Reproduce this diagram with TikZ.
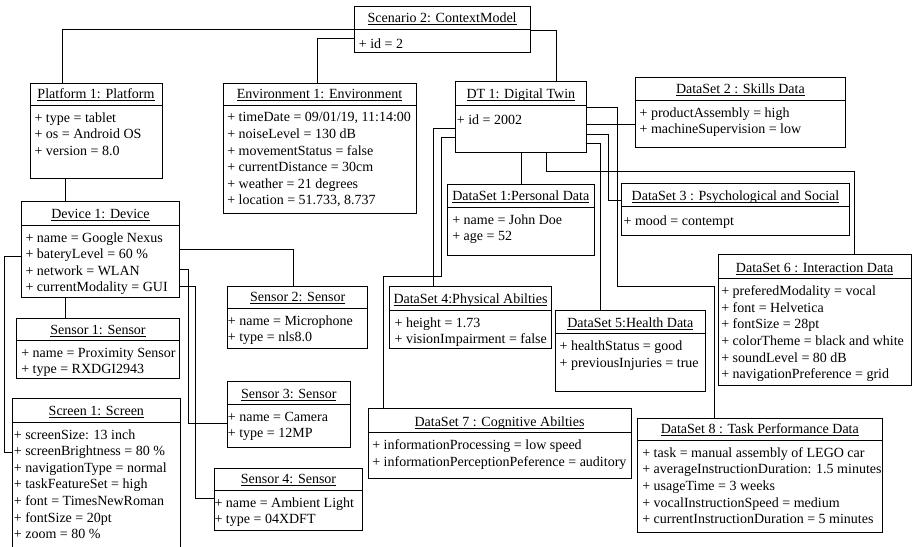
\documentclass[tikz,border=0pt]{standalone}
\usepackage{fontspec}
\setmainfont{Liberation Serif}
\newcommand\umlfont{\fontsize{14}{16.6}\selectfont}
\tikzset{
  umlbox/.style={draw, line width=0.75pt, inner sep=0pt, outer sep=0pt, anchor=north west},
  umltitle/.style={font=\umlfont, inner sep=0pt, outer sep=0pt, anchor=base},
  umlattr/.style={font=\umlfont, inner sep=0pt, outer sep=0pt, anchor=north west, align=left, execute at begin node=\strut},
  conn/.style={line width=0.75pt},
  uline/.style={line width=0.6pt},
}
% name, x1, y1, x2, y2, divider, text x offset, title, attribute lines
\newcommand\umlobj[9]{%
  \node[umlbox, minimum width={(#4-#2)*1pt}, minimum height={(#5-#3)*1pt}] (#1) at (#2,#3) {};
  \draw[line width=0.75pt] (#1.west |- 0,#6) -- (#1.east |- 0,#6);
  \node[umltitle] (#1-t) at ({(#2+#4)/2},{#6-6.5}) {#8};
  \draw[uline] ([yshift=-1.8pt]#1-t.base west) -- ([yshift=-1.8pt]#1-t.base east);
  \node[umlattr] (#1-a) at ({#2+#7-0.4},{#6+7.38}) {#9};
}
\begin{document}
\begin{tikzpicture}[x=1pt, y=-1pt]
\useasboundingbox (0,0) rectangle (912,546);
\fill[white] (0,0) rectangle (912,546);

\umlobj{scen}{354.3}{6.7}{530}{52.3}{29.3}{5}{Scenario 2: ContextModel}{+ id = 2}
\umlobj{plat}{30}{83}{162}{178}{105.3}{5}{Platform 1: Platform}{+ type = tablet\\+ os = Android OS\\+ version = 8.0}
\umlobj{env}{223}{83}{416}{213.3}{105.3}{4.7}{Environment 1: Environment}{+ timeDate = 09/01/19, 11:14:00\\+ noiseLevel = 130 dB\\+ movementStatus = false\\+ currentDistance = 30cm\\+ weather = 21 degrees\\+ location = 51.733, 8.737}
\umlobj{dt}{455}{81.7}{586.7}{152.3}{105.3}{2.3}{DT 1: Digital Twin}{+ id = 2002}
\umlobj{ds2}{635}{77.7}{845.7}{147.7}{100}{5}{DataSet 2 : Skills Data}{+ productAssembly = high\\+ machineSupervision = low}
\umlobj{ds1}{447.3}{184.3}{594.3}{255}{207.3}{5.4}{DataSet 1:Personal Data}{+ name = John Doe\\+ age = 52}
\umlobj{ds3}{621.7}{183.5}{849.3}{235.5}{206.7}{2.3}{DataSet 3 : Psychological and Social}{+ mood = contempt}
\umlobj{ds4}{389.3}{286.7}{551.7}{348.3}{310}{5.7}{DataSet 4:Physical Abilties}{+ height = 1.73\\+ visionImpairment = false}
\umlobj{ds5}{555.7}{310.7}{705}{391}{333.5}{4.3}{DataSet 5:Health Data}{+ healthStatus = good\\+ previousInjuries = true}
\umlobj{ds6}{718.3}{254.3}{911}{385}{278.5}{3.4}{DataSet 6 : Interaction Data}{+ preferedModality = vocal\\+ font = Helvetica\\+ fontSize = 28pt\\+ colorTheme = black and white\\+ soundLevel = 80 dB\\+ navigationPreference = grid}
\umlobj{ds7}{368}{408.7}{631}{478.5}{432.5}{4.7}{DataSet 7 : Cognitive Abilties}{+ informationProcessing = low speed\\+ informationPerceptionPeference = auditory}
\umlobj{ds8}{637.3}{418.7}{882.3}{532.7}{440}{5.4}{DataSet 8 : Task Performance Data}{+ task = manual assembly of LEGO car\\+ averageInstructionDuration: 1.5 minutes\\+ usageTime = 3 weeks\\+ vocalInstructionSpeed = medium\\+ currentInstructionDuration = 5 minutes}
\umlobj{dev}{21.7}{201.7}{179.3}{297.3}{225}{4.3}{Device 1: Device}{+ name = Google Nexus\\+ bateryLevel = 60 \%\\+ network = WLAN\\+ currentModality = GUI}
\umlobj{sa}{16.7}{318.3}{179.3}{378.3}{340.7}{5}{Sensor 1: Sensor}{+ name = Proximity Sensor\\+ type = RXDGI2943}
\umlobj{sb}{227.7}{286.7}{367.7}{348.3}{308.3}{0.6}{Sensor 2: Sensor}{+ name = Microphone\\+ type = nls8.0}
\umlobj{sc}{227.7}{381.7}{350}{447}{404.5}{0.6}{Sensor 3: Sensor}{+ name = Camera\\+ type = 12MP}
\umlobj{sd}{214.3}{468.3}{362.7}{530}{490}{0.7}{Sensor 4: Sensor}{+ name = Ambient Light\\+ type = 04XDFT}
\umlobj{scr}{12.7}{398.7}{180}{560}{422}{1.6}{Screen 1: Screen}{+ screenSize: 13 inch\\+ screenBrightness = 80 \%\\+ navigationType = normal\\+ taskFeatureSet = high\\+ font = TimesNewRoman\\+ fontSize = 20pt\\+ zoom = 80 \%}

% connectors
\draw[conn] (scen.west |- 0,29.3) -| (plat.north -| 62.7,0);
\draw[conn] (scen.west |- 0,38.3) -| (env.north -| 317.3,0);
\draw[conn] (scen.east |- 0,30) -| (dt.north -| 556,0);
\draw[conn] (plat.south -| 65,0) -- (dev.north -| 65,0);
\draw[conn] (dev.south -| 65,0) -- (sa.north -| 65,0);
\draw[conn] (dev.east |- 0,249.3) -| (sb.north -| 293.3,0);
\draw[conn] (dev.east |- 0,269) -| (188.3,423) -- (sc.west |- 0,423);
\draw[conn] (dev.east |- 0,286.7) -| (195,498.3) -- (sd.west |- 0,498.3);
\draw[conn] (dev.west |- 0,256) -| (4,452.7) -- (scr.west |- 0,452.7);
\draw[conn] (dt.east |- 0,107.3) -| (617.3,286.5) -| (ds8.north -| 714.3,0);
\draw[conn] (dt.east |- 0,124) -- (ds2.west |- 0,124);
\draw[conn] (dt.east |- 0,134) -| (608.7,200.7) -- (ds3.west |- 0,200.7);
\draw[conn] (dt.east |- 0,143.3) -| (ds5.north -| 600.7,0);
\draw[conn] (dt.south -| 521.7,0) -- (ds1.north -| 521.7,0);
\draw[conn] (dt.south -| 546.7,0) |- (854,171.7) -- (ds6.north -| 854,0);
\draw[conn] (dt.west |- 0,128.3) -| (ds4.north -| 433.3,0);
\draw[conn] (dt.west |- 0,137.3) -| (441.7,276.7) -| (ds7.north -| 383.3,0);
\end{tikzpicture}
\end{document}
